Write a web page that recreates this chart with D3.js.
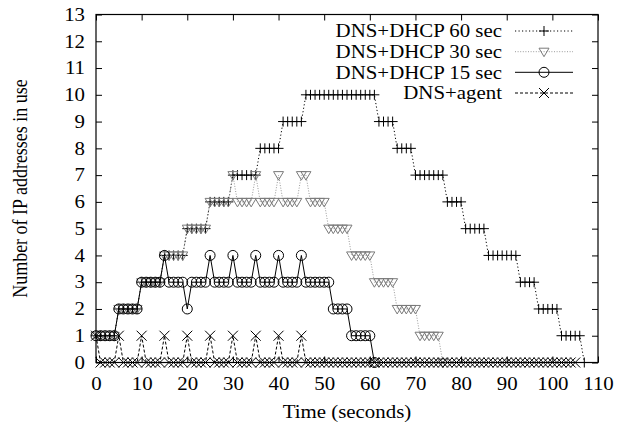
<!DOCTYPE html>
<html><head><meta charset="utf-8">
<script src="https://cdn.jsdelivr.net/npm/d3@7"></script>
<style>
body{margin:0;background:#fff}
</style>
</head><body>
<svg id="chart" width="629" height="430"></svg>
<script>
// ---- data (one sample per second) ----
const seconds = [0,1,2,3,4,5,6,7,8,9,10,11,12,13,14,15,16,17,18,19,20,21,22,23,24,25,26,27,28,29,30,31,32,33,34,35,36,37,38,39,40,41,42,43,44,45,46,47,48,49,50,51,52,53,54,55,56,57,58,59,60,61,62,63,64,65,66,67,68,69,70,71,72,73,74,75,76,77,78,79,80,81,82,83,84,85,86,87,88,89,90,91,92,93,94,95,96,97,98,99,100,101,102,103,104,105,106,107,108,109,110];

const dhcp60 = [1,1,1,1,1, 2,2,2,2,2, 3,3,3,3,3, 4,4,4,4,4, 5,5,5,5,5, 6,6,6,6,6,
  7,7,7,7,7,7, 8,8,8,8,8, 9,9,9,9,9, 10,10,10,10,10,10,10,10,10,10,10,10,10,10,10,10,
  9,9,9,9, 8,8,8,8, 7,7,7,7,7,7,7, 6,6,6,6, 5,5,5,5,5, 4,4,4,4,4,4,4, 3,3,3,3, 2,2,2,2,2, 1,1,1,1,1, 0];

const dhcp30 = [1,1,1,1,1, 2,2,2,2,2, 3,3,3,3,3, 4,4,4,4,4, 5,5,5,5,5, 6,6,6,6,6,
  7,6,6,6,6, 7,6,6,6,6, 7,6,6,6,6, 7,7,6,6,6,6, 5,5,5,5,5, 4,4,4,4,4, 3,3,3,3,3, 2,2,2,2,2, 1,1,1,1,1, 0];

const dhcp15 = [1,1,1,1,1, 2,2,2,2,2, 3,3,3,3,3, 4,3,3,3,3, 2,3,3,3,3, 4,3,3,3,3,
  4,3,3,3,3, 4,3,3,3,3, 4,3,3,3,3, 4,3,3,3,3,3,3, 2,2,2,2, 1,1,1,1,1, 0];

const agent = [1,0,0,0,0, 1,0,0,0,0, 1,0,0,0,0, 1,0,0,0,0, 1,0,0,0,0, 1,0,0,0,0,
  1,0,0,0,0, 1,0,0,0,0, 1,0,0,0,0, 1,0,0,0,0, 0,0,0,0,0, 0,0,0,0,0, 0,0,0,0,0,
  0,0,0,0,0, 0,0,0,0,0, 0,0,0,0,0, 0,0,0,0,0, 0,0,0,0,0, 0,0,0,0,0, 0,0,0,0,0, 0,0,0,0,0, 0];

const seriesNames = ["DNS+DHCP 60 sec","DNS+DHCP 30 sec","DNS+DHCP 15 sec","DNS+agent"];
const xTicks = [0,10,20,30,40,50,60,70,80,90,100,110];
const yTicks = [0,1,2,3,4,5,6,7,8,9,10,11,12,13];
const xTitle = "Time (seconds)";
const yTitle = "Number of IP addresses in use";

// ---- layout / styles ----
const FONT = "Liberation Serif, Times New Roman, serif";
const FS = 18, SX = 1.16;   // font size and horizontal glyph stretch
const svg = d3.select("#chart");
const L = 96, R = 598, T = 14.5, B = 362.5;
const x = d3.scaleLinear().domain([0,110]).range([L,R]);
const y = d3.scaleLinear().domain([0,13]).range([B,T]);

function styleText(sel){
  sel.attr("font-family",FONT).attr("font-size",FS).attr("fill","#000");
}

const markers = {
  plus: "M-5,0H5M0,-5V5",
  tri: "M-5,-3.5L5,-3.5L0,5Z",
  circle: d3.symbol().type(d3.symbolCircle).size(Math.PI*25)(),
  cross: "M-5,-5L5,5M-5,5L5,-5"
};

const series = [
  {name: seriesNames[0], values: dhcp60, marker: "plus", color:"#000", lineColor:"#000", dash:"1.2,2.3"},
  {name: seriesNames[1], values: dhcp30, marker: "tri", color:"#7a7a7a", lineColor:"#9a9a9a", dash:"1,1.6"},
  {name: seriesNames[2], values: dhcp15, marker: "circle", color:"#000", lineColor:"#000", dash:null},
  {name: seriesNames[3], values: agent, marker: "cross", color:"#000", lineColor:"#000", dash:"3,2"}
];

// ---- axes ----
const gx = svg.append("g").attr("transform",`translate(0,${B})`)
  .call(d3.axisBottom(x).tickValues(xTicks).tickSizeInner(-6).tickSizeOuter(0).tickPadding(15));
const gxt = svg.append("g").attr("transform",`translate(0,${T})`)
  .call(d3.axisTop(x).tickValues(xTicks).tickSizeInner(-6).tickSizeOuter(0).tickFormat(""));
const gy = svg.append("g").attr("transform",`translate(${L},0)`)
  .call(d3.axisLeft(y).tickValues(yTicks).tickSizeInner(-6).tickSizeOuter(0).tickPadding(11));
const gyr = svg.append("g").attr("transform",`translate(${R},0)`)
  .call(d3.axisRight(y).tickValues(yTicks).tickSizeInner(-6).tickSizeOuter(0).tickFormat(""));
[gx,gxt,gy,gyr].forEach(g=>{
  g.select(".domain").remove();
  g.selectAll(".tick line").attr("stroke","#000").attr("stroke-width",1);
  styleText(g.selectAll("text"));
});
// horizontal glyph stretch for tick labels
gx.selectAll(".tick text").attr("transform",`scale(${SX},1)`);
gy.selectAll(".tick text").each(function(){
  const t = d3.select(this); const tx = +t.attr("x");
  t.attr("x",0).attr("transform",`translate(${tx},0) scale(${SX},1)`);
});

svg.append("rect").attr("x",L).attr("y",T).attr("width",R-L).attr("height",B-T)
  .attr("fill","none").attr("stroke","#000").attr("stroke-width",1.2);

svg.append("text").attr("transform",`translate(${(L+R)/2},418) scale(${SX},1)`)
  .attr("text-anchor","middle").text(xTitle).call(styleText);
svg.append("text").attr("transform",`translate(27,${(T+B)/2}) scale(${SX},1) rotate(-90)`)
  .attr("text-anchor","middle").text(yTitle).call(styleText);

// ---- series ----
const line = d3.line().x((d,i)=>x(seconds[i])).y(d=>y(d));
series.forEach(s=>{
  const g = svg.append("g");
  g.append("path").attr("d", line(s.values)).attr("fill","none")
    .attr("stroke", s.lineColor).attr("stroke-width",1)
    .attr("stroke-dasharray", s.dash);
  g.selectAll("path.m").data(s.values).enter().append("path").attr("class","m")
    .attr("d", markers[s.marker])
    .attr("transform",(d,i)=>`translate(${x(seconds[i])},${y(d)})`)
    .attr("fill","none").attr("stroke", s.color).attr("stroke-width",1);
});

// ---- legend ----
const legY = [31, 51.7, 72.3, 93];
series.forEach((s,k)=>{
  const g = svg.append("g").attr("transform",`translate(0,${legY[k]})`);
  g.append("text").attr("transform",`translate(502,6.3) scale(${SX},1)`)
    .attr("text-anchor","end").text(s.name).call(styleText);
  g.append("line").attr("x1",515).attr("x2",573).attr("y1",0).attr("y2",0)
    .attr("stroke",s.lineColor).attr("stroke-width",1).attr("stroke-dasharray",s.dash);
  g.append("path").attr("d",markers[s.marker]).attr("transform","translate(544,0)")
    .attr("fill","none").attr("stroke",s.color).attr("stroke-width",1);
});
</script>
</body></html>
